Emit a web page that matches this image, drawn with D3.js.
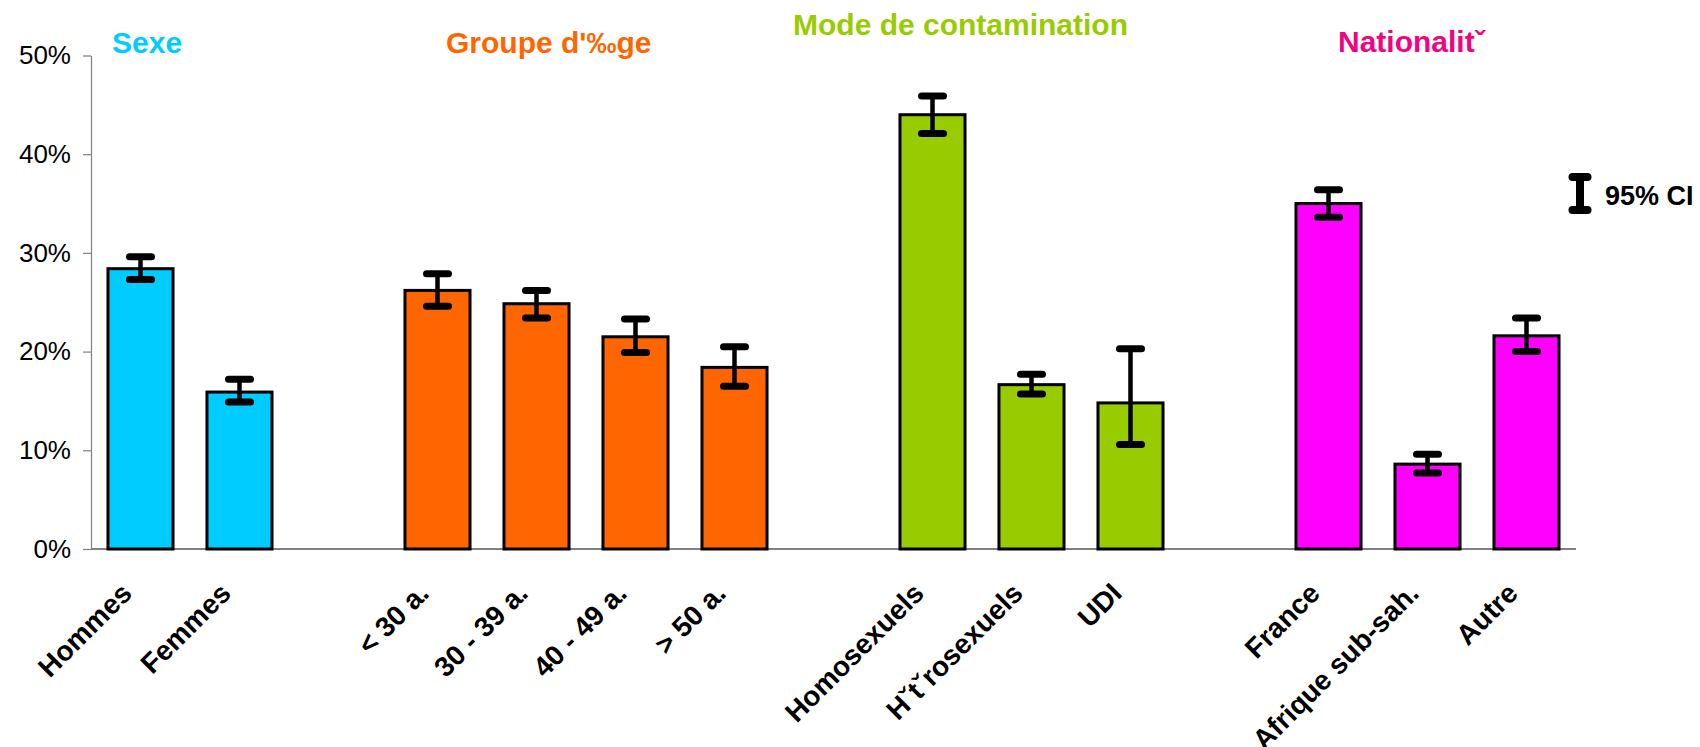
<!DOCTYPE html>
<html>
<head>
<meta charset="utf-8">
<script src="https://cdn.jsdelivr.net/npm/d3@7"></script>
<style>
  body { margin: 0; background: #fff; }
  text { font-family: "Liberation Sans", Arial, sans-serif; }
</style>
</head>
<body>
<script>
// data (percent)
const groups = ["Sexe", "Groupe d'‰ge", "Mode de contamination", "Nationalitˇ"];
const labels = ["Hommes", "Femmes", "< 30 a.", "30 - 39 a.", "40 - 49 a.", "> 50 a.",
  "Homosexuels", "Hˇtˇrosexuels", "UDI", "France", "Afrique sub-sah.", "Autre"];
const groupOf = [0, 0, 1, 1, 1, 1, 2, 2, 2, 3, 3, 3];
const values = [28.4, 15.9, 26.2, 24.85, 21.5, 18.4, 44.0, 16.65, 14.8, 35.0, 8.6, 21.6];
const ciLow  = [27.3, 14.9, 24.6, 23.4, 19.9, 16.5, 42.1, 15.7, 10.6, 33.6, 7.7, 20.0];
const ciHigh = [29.6, 17.2, 27.9, 26.2, 23.3, 20.5, 45.9, 17.7, 20.3, 36.4, 9.6, 23.4];
const yTicks = [0, 10, 20, 30, 40, 50];

// styles
const barColors = ["#00CCFF", "#FF6600", "#99CC00", "#FF00FF"];
const titleColors = ["#00CCFF", "#FF6600", "#99CC00", "#F0047F"];
const titlePos = [[112, 53], [446, 53], [793, 35], [1338, 52]];

const w = 1700, h = 747;
const x0 = 91, x1 = 1576, yBase = 549, yTop = 55.5;

// slot keys: bars plus an empty slot between groups
const slots = [];
labels.forEach((l, i) => {
  if (i > 0 && groupOf[i] !== groupOf[i - 1]) slots.push("_gap" + i);
  slots.push(l);
});

const xScale = d3.scaleBand().domain(slots).range([x0, x1])
  .paddingInner(0.343).paddingOuter(0.343 / 2);
const yScale = d3.scaleLinear().domain([0, 50]).range([yBase, yTop]);

const svg = d3.select("body").append("svg").attr("width", w).attr("height", h);

// y axis
const yAxis = d3.axisLeft(yScale).tickValues(yTicks).tickFormat(d => d + "%")
  .tickSize(8).tickSizeOuter(0).tickPadding(12);
const gy = svg.append("g").attr("transform", "translate(" + x0 + ",0)").call(yAxis);
gy.select(".domain").attr("stroke", "#808080").attr("stroke-width", 1.2);
gy.selectAll(".tick line").attr("stroke", "#808080").attr("stroke-width", 1.2);
gy.selectAll(".tick text").attr("fill", "#000").style("font-size", "26px")
  .style("font-family", "'Liberation Sans', Arial, sans-serif");

// x axis line
svg.append("line").attr("x1", x0).attr("x2", x1).attr("y1", yBase).attr("y2", yBase)
  .attr("stroke", "#808080").attr("stroke-width", 2);

const data = labels.map((l, i) => ({label: l, g: groupOf[i], v: values[i], lo: ciLow[i], hi: ciHigh[i]}));
const cx = d => xScale(d.label) + xScale.bandwidth() / 2;

// bars
svg.selectAll("rect.bar").data(data).enter().append("rect").attr("class", "bar")
  .attr("x", d => xScale(d.label)).attr("width", xScale.bandwidth())
  .attr("y", d => yScale(d.v)).attr("height", d => yScale(0) - yScale(d.v))
  .attr("fill", d => barColors[d.g]).attr("stroke", "#000").attr("stroke-width", 3);

// error bars
const eb = svg.selectAll("g.err").data(data).enter().append("g").attr("class", "err");
eb.append("line").attr("x1", cx).attr("x2", cx)
  .attr("y1", d => yScale(d.hi)).attr("y2", d => yScale(d.lo))
  .attr("stroke", "#000").attr("stroke-width", 4.5);
eb.selectAll("line.cap").data(d => [[cx(d), d.hi], [cx(d), d.lo]]).enter().append("line")
  .attr("class", "cap")
  .attr("x1", c => c[0] - 11).attr("x2", c => c[0] + 11)
  .attr("y1", c => yScale(c[1])).attr("y2", c => yScale(c[1]))
  .attr("stroke", "#000").attr("stroke-width", 7).attr("stroke-linecap", "round");

// category labels, rotated
svg.selectAll("text.lab").data(data).enter().append("text").attr("class", "lab")
  .attr("transform", d => "translate(" + (cx(d) - 7) + "," + (yBase + 46) + ") rotate(-45)")
  .attr("text-anchor", "end").style("font-size", "28px").style("font-weight", "bold")
  .text(d => d.label);

// group titles
svg.selectAll("text.title").data(groups).enter().append("text").attr("class", "title")
  .attr("x", (g, i) => titlePos[i][0]).attr("y", (g, i) => titlePos[i][1])
  .attr("fill", (g, i) => titleColors[i])
  .style("font-size", "30px").style("font-weight", "bold").text(g => g);

// legend: 95% CI
const lg = svg.append("g").attr("transform", "translate(1580,0)");
lg.append("line").attr("x1", 0).attr("x2", 0).attr("y1", 177).attr("y2", 210)
  .attr("stroke", "#000").attr("stroke-width", 8);
[177, 210].forEach(yy => {
  lg.append("line").attr("x1", -7.5).attr("x2", 7.5).attr("y1", yy).attr("y2", yy)
    .attr("stroke", "#000").attr("stroke-width", 8).attr("stroke-linecap", "round");
});
lg.append("text").attr("x", 25).attr("y", 205).style("font-size", "27px")
  .style("font-weight", "bold").text("95% CI");
</script>
</body>
</html>
